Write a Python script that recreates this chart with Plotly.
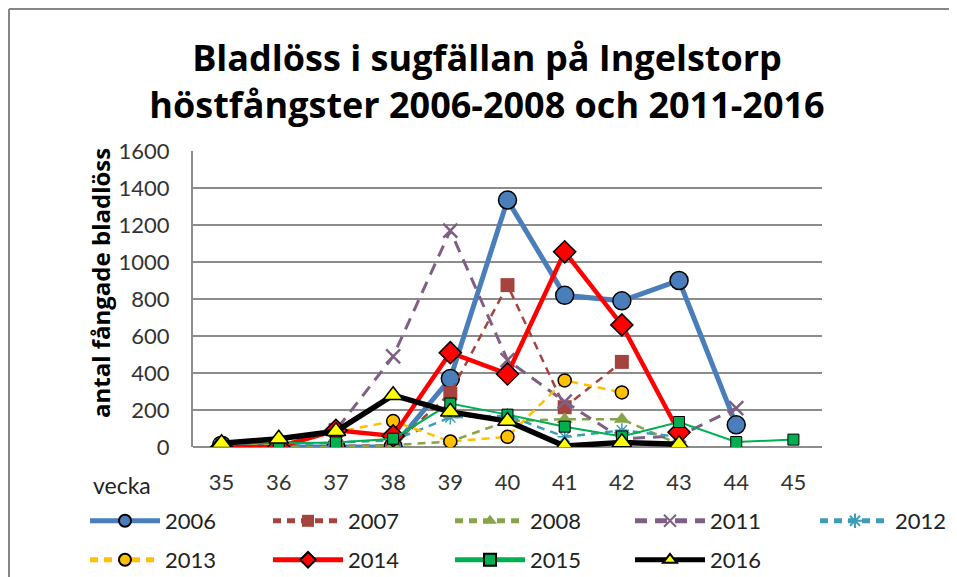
import plotly.graph_objects as go

weeks = [35, 36, 37, 38, 39, 40, 41, 42, 43, 44, 45]
tick_labels = ["35", "36", "37", "38", "39", "40", "41", "42", "43", "44", "45"]

y2006 = [10, 0, 0, 0, 370, 1335, 820, 790, 900, 120, None]
y2007 = [0, 0, 5, 10, 290, 875, 215, 460, None, None, None]
y2008 = [0, 0, 0, 10, 30, 140, 150, 150, 15, None, None]
y2011 = [0, 0, 90, 490, 1170, 470, 245, 45, 60, 210, None]
y2012 = [10, 10, 25, 35, 160, 170, 55, 90, 55, None, None]
y2013 = [0, 15, 80, 140, 30, 55, 360, 295, None, None, None]
y2014 = [0, 0, 90, 60, 510, 395, 1055, 660, 80, None, None]
y2015 = [20, 20, 25, 45, 235, 175, 110, 57, 135, 27, 40]
y2016 = [20, 45, 85, 280, 190, 140, 5, 25, 15, None, None]

FONT = "Lato"
TFONT = "Open Sans"
OFF = 8  # page body margin
W, H = 957 - OFF, 577 - OFF
# plot area in page pixels: x 193..822, y 151..447
L, T = 193 - OFF, 151 - OFF
R, B = W - (822 - OFF), H - (447 - OFF)
PW, PH = W - L - R, H - T - B


def px2paper_x(px):
    return (px - OFF - L) / PW


def px2paper_y(py):
    return (H - B - (py - OFF)) / PH


# name, values, line, marker, legend line start px, legend row centre px (page coords)
series = [
    ("2006", y2006, dict(color="#4A7EBB", width=5), dict(symbol="circle", size=18, color="#4A7EBB", line=dict(color="black", width=1.5)), 91, 521),
    ("2007", y2007, dict(color="#A5443F", width=2.5, dash="8px,6px"), dict(symbol="square", size=14, color="#A5443F", line=dict(color="#A5443F", width=0)), 274, 521),
    ("2008", y2008, dict(color="#86A44A", width=2.5, dash="8px,6px"), dict(symbol="triangle-up", size=14, color="#86A44A", line=dict(color="#86A44A", width=0)), 456, 521),
    ("2011", y2011, dict(color="#7F6084", width=3, dash="12px,8px"), dict(symbol="x-thin", size=14, color="#7F6084", line=dict(color="#7F6084", width=2.5)), 636, 521),
    ("2012", y2012, dict(color="#3E9DB5", width=2.5, dash="8px,6px"), dict(symbol="asterisk", size=12, color="#3E9DB5", line=dict(color="#3E9DB5", width=1.5)), 821, 521),
    ("2013", y2013, dict(color="#FFC000", width=2.5, dash="8px,6px"), dict(symbol="circle", size=13, color="#FFC000", line=dict(color="black", width=1.5)), 91, 560),
    ("2014", y2014, dict(color="#FF0000", width=4.5), dict(symbol="diamond", size=17, color="#FF0000", line=dict(color="black", width=1.5)), 274, 560),
    ("2015", y2015, dict(color="#00B050", width=2), dict(symbol="square", size=11, color="#00B050", line=dict(color="black", width=1)), 456, 560),
    ("2016", y2016, dict(color="black", width=5.5), dict(symbol="triangle-up", size=17, color="#FFFF00", line=dict(color="black", width=1.5)), 636, 560),
]

fig = go.Figure()
legends = {}
for i, (name, ys, line, marker, lx, ly) in enumerate(series):
    key = "legend" if i == 0 else f"legend{i + 1}"
    fig.add_trace(go.Scatter(
        x=weeks, y=ys, name=name, mode="lines+markers",
        line=line, marker=marker, legend=key, connectgaps=False,
    ))
    legends[key] = dict(
        orientation="h", xref="container", yref="container",
        x=(lx - OFF - 6) / W, y=1 - (ly - OFF) / H, xanchor="left", yanchor="middle",
        font=dict(family=FONT, size=22, color="#222"),
        itemwidth=70, itemsizing="constant",
        bgcolor="rgba(0,0,0,0)",
    )

fig.update_layout(
    width=W, height=H,
    margin=dict(l=L, r=R, t=T, b=B, autoexpand=False),
    paper_bgcolor="white", plot_bgcolor="white",
    title=dict(
        text="Bladlöss i sugfällan på Ingelstorp<br>höstfångster 2006-2008 och 2011-2016",
        x=(487 - OFF) / W, xanchor="center", xref="container",
        y=1 - (71 - OFF) / H, yanchor="middle", yref="container",
        font=dict(family=TFONT, size=36, color="black", weight="bold"),
    ),
    xaxis=dict(
        range=[34.5, 45.5], tickmode="array", tickvals=weeks, ticktext=tick_labels,
        showgrid=False, zeroline=False, showline=False, ticks="",
        ticklabelstandoff=20,
        tickfont=dict(family=FONT, size=22, color="#333"),
    ),
    yaxis=dict(
        range=[0, 1600], dtick=200, showgrid=True, gridcolor="#8C8C8C", gridwidth=2,
        zeroline=True, zerolinecolor="#8C8C8C", zerolinewidth=2,
        showline=True, linecolor="#8C8C8C", linewidth=2, ticks="",
        ticklabelstandoff=17,
        tickfont=dict(family=FONT, size=22, color="#333"),
    ),
    showlegend=True,
    **legends,
)

# y-axis title
fig.add_annotation(
    text="<b>antal fångade bladlöss</b>", xref="paper", yref="paper",
    x=px2paper_x(100), y=px2paper_y(283), xanchor="center", yanchor="middle",
    textangle=-90, showarrow=False,
    font=dict(family=TFONT, size=24, color="black"),
)

fig.add_annotation(
    text="vecka", xref="paper", yref="paper",
    x=px2paper_x(122), y=px2paper_y(485), xanchor="center", yanchor="middle",
    showarrow=False, font=dict(family=FONT, size=23, color="#222"),
)

# outer chart frame (top and left edges visible)
fig.add_shape(type="line", xref="paper", yref="paper",
              x0=px2paper_x(9), x1=px2paper_x(960), y0=px2paper_y(9), y1=px2paper_y(9),
              line=dict(color="#868686", width=2))
fig.add_shape(type="line", xref="paper", yref="paper",
              x0=px2paper_x(9), x1=px2paper_x(9), y0=px2paper_y(9), y1=px2paper_y(580),
              line=dict(color="#868686", width=2))

fig.write_html("out.html", config={"displayModeBar": False})
